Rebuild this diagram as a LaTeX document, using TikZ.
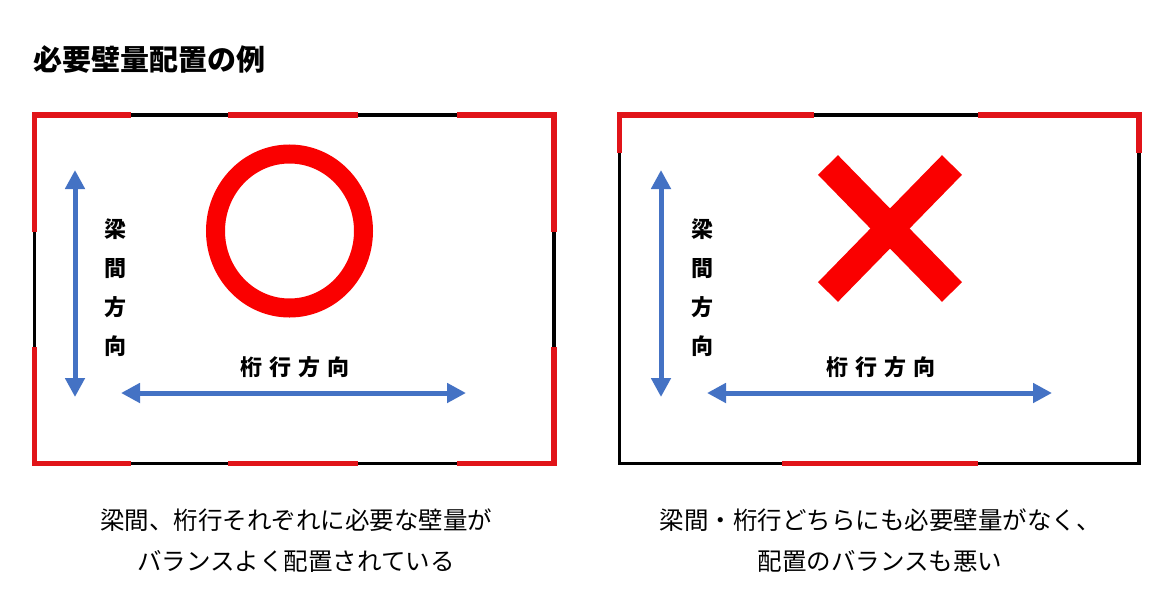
\documentclass[tikz,border=0pt]{standalone}
\usepackage{fontspec}
\usepackage{tikz}
\usetikzlibrary{arrows.meta}
\newfontfamily\jpfont{Noto Sans CJK JP}

\definecolor{wallred}{RGB}{225,20,25}
\definecolor{markred}{RGB}{250,0,0}
\definecolor{axisblue}{RGB}{68,114,196}

\tikzset{
    wall/.style={line width=3.5pt, black},
    redwall/.style={line width=5.5pt, wallred, line join=miter},
    axis/.style={line width=5pt, axisblue, {Triangle[width=19pt,length=19pt]}-{Triangle[width=19pt,length=19pt]}},
    dirlabel/.style={font=\jpfont\bfseries\fontsize{22}{39}\selectfont, align=center, inner sep=0pt},
    caption/.style={font=\jpfont\fontsize{24.5}{41}\selectfont, align=center, inner sep=0pt}
}

\begin{document}
\begin{tikzpicture}[x=1pt, y=-1pt]
    \useasboundingbox (0,0) rectangle (1176,608);
    \node[anchor=west, inner sep=0pt, font=\jpfont\bfseries\fontsize{29}{32}\selectfont] (title) at (33,60) {必要壁量配置の例};

    % Good: balanced walls
    \begin{scope}
        \draw[wall] (34.5,115) rectangle (554,463.5);
        \draw[redwall] (34.5,232) -- (34.5,115) -- (131,115);
        \draw[redwall] (228,115) -- (358,115);
        \draw[redwall] (457,115) -- (554,115) -- (554,232);
        \draw[redwall] (34.5,347) -- (34.5,463.5) -- (131,463.5);
        \draw[redwall] (228,463.5) -- (358,463.5);
        \draw[redwall] (457,463.5) -- (554,463.5) -- (554,347);
        \draw[markred, line width=19pt] (289.5,231) ellipse [x radius=74, y radius=77];
        \coordinate (vtopL) at (75,170);
        \coordinate (vbotL) at (75,397);
        \coordinate (hleftL) at (121,393);
        \coordinate (hrightL) at (466,393);
        \draw[axis] (vtopL) -- (vbotL);
        \draw[axis] (hleftL) -- (hrightL);
        \node[dirlabel] (spanL) at (115,288) {梁\\間\\方\\向};
        \node[dirlabel] (ridgeL) at (295,367) {桁\hspace{7pt}行\hspace{7pt}方\hspace{7pt}向};
        \node[caption] (noteL) at (296,540.5) {梁間、桁行それぞれに必要な壁量が\\バランスよく配置されている};
    \end{scope}

    % Bad: too few walls, unbalanced
    \begin{scope}[xshift=585pt]
        \draw[wall] (34.5,115) rectangle (554,463.5);
        \draw[redwall] (34.5,153) -- (34.5,115) -- (229,115);
        \draw[redwall] (393,115) -- (554,115) -- (554,153);
        \draw[redwall] (197,463.5) -- (393,463.5);
        \draw[markred, line width=28pt] (243,165) -- (367,292);
        \draw[markred, line width=28pt] (367,165) -- (243,292);
        \coordinate (vtopR) at (76,170);
        \coordinate (vbotR) at (76,397);
        \coordinate (hleftR) at (122,393);
        \coordinate (hrightR) at (467,393);
        \draw[axis] (vtopR) -- (vbotR);
        \draw[axis] (hleftR) -- (hrightR);
        \node[dirlabel] (spanR) at (117,288) {梁\\間\\方\\向};
        \node[dirlabel] (ridgeR) at (296,367) {桁\hspace{7pt}行\hspace{7pt}方\hspace{7pt}向};
        \node[caption] (noteR) at (295,540.5) {梁間・桁行どちらにも必要壁量がなく、\\配置のバランスも悪い};
    \end{scope}
\end{tikzpicture}
\end{document}
